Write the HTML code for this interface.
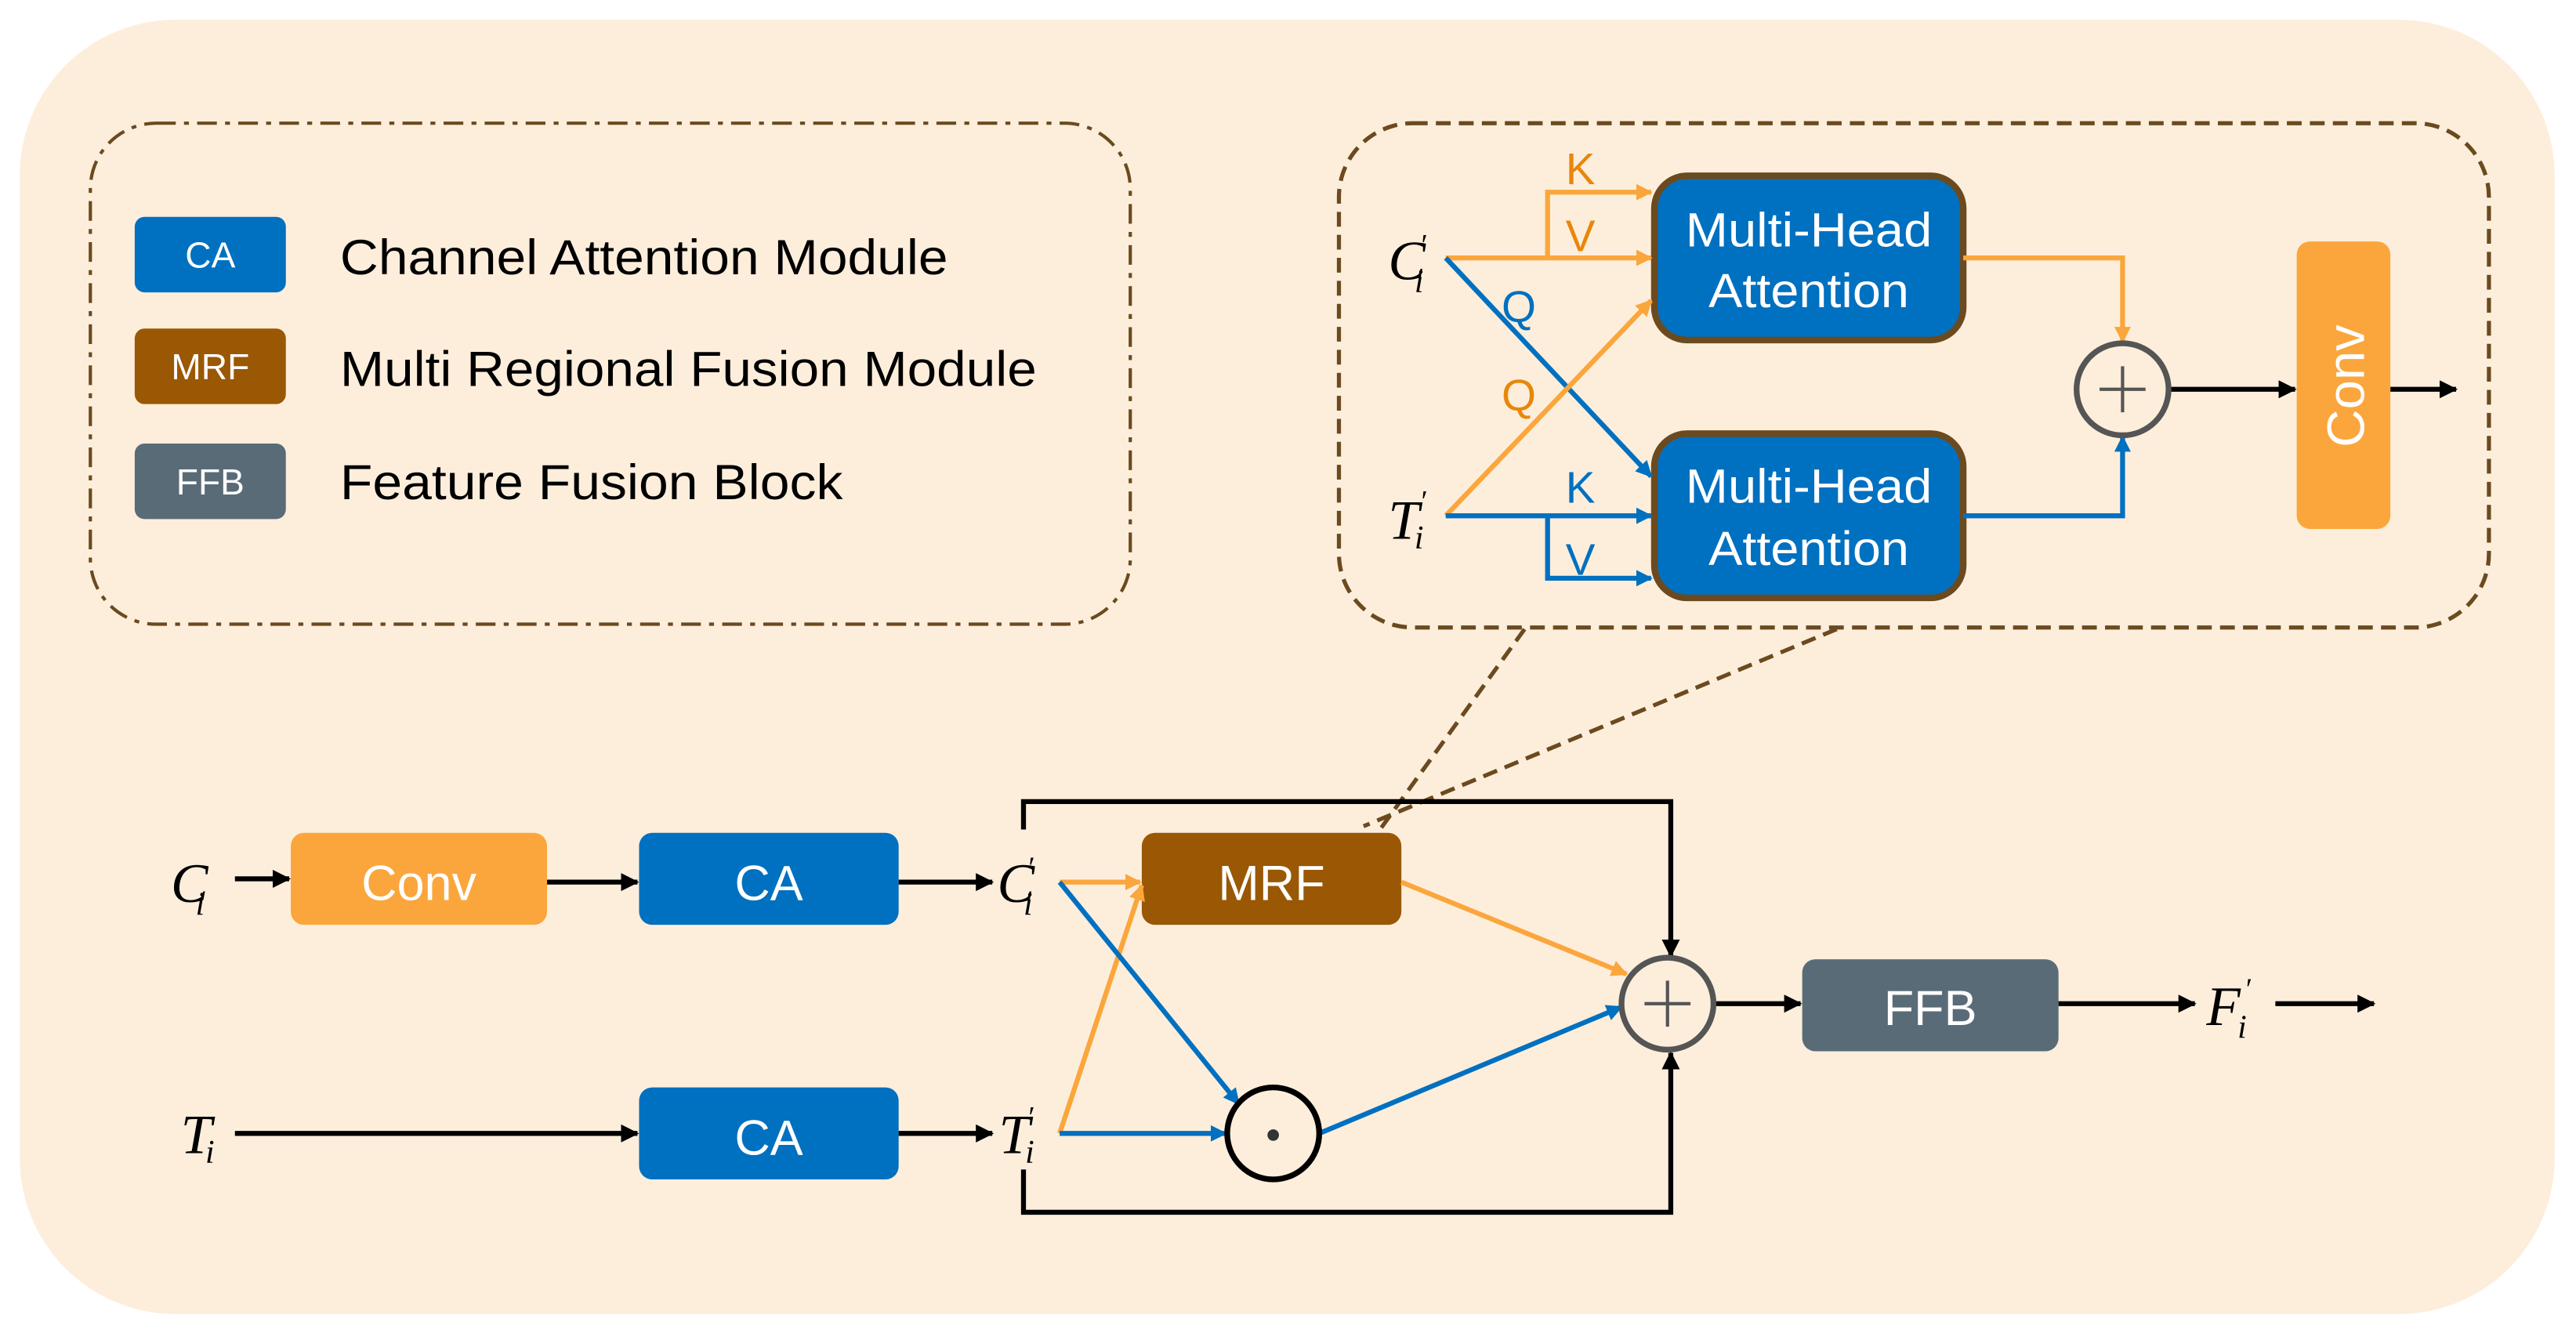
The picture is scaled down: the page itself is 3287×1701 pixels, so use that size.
<!DOCTYPE html>
<html><head><meta charset="utf-8"><style>
html,body{margin:0;padding:0;background:#fff}
svg{display:block}
.s{font-family:"Liberation Sans",sans-serif;fill:#fff}
.m{font-family:"Liberation Serif",serif;font-style:italic;fill:#000}
</style></head><body>
<svg width="3287" height="1701" viewBox="0 0 1568 811.5" preserveAspectRatio="none" xmlns="http://www.w3.org/2000/svg">
<defs>
<marker id="ab" markerWidth="11" markerHeight="11" refX="10" refY="5.5" orient="auto" markerUnits="userSpaceOnUse"><path d="M0,0 L11,5.5 L0,11z" fill="#000"/></marker>
<marker id="ao" markerWidth="10" markerHeight="10" refX="9" refY="5" orient="auto" markerUnits="userSpaceOnUse"><path d="M0,0 L10,5 L0,10z" fill="#FBA63C"/></marker>
<marker id="au" markerWidth="10" markerHeight="10" refX="9" refY="5" orient="auto" markerUnits="userSpaceOnUse"><path d="M0,0 L10,5 L0,10z" fill="#0070C0"/></marker>
</defs>
<rect x="0" y="0" width="1568" height="812" fill="#fff"/>
<rect x="12" y="12" width="1543" height="788" rx="95" fill="#FDEEDC"/>
<!-- legend -->
<rect x="55" y="75" width="633" height="305" rx="40" fill="none" stroke="#6B4A1F" stroke-width="2" stroke-dasharray="12,5,3,5"/>
<rect x="82" y="132" width="92" height="46" rx="6" fill="#0070C0"/>
<text x="128" y="163" class="s" font-size="22" text-anchor="middle">CA</text>
<rect x="82" y="200" width="92" height="46" rx="6" fill="#9A5804"/>
<text x="128" y="231" class="s" font-size="22" text-anchor="middle">MRF</text>
<rect x="82" y="270" width="92" height="46" rx="6" fill="#5A6B78"/>
<text x="128" y="301" class="s" font-size="22" text-anchor="middle">FFB</text>
<g font-family="Liberation Sans,sans-serif" font-size="30" fill="#000">
<text x="207" y="167" textLength="370" lengthAdjust="spacingAndGlyphs">Channel Attention Module</text>
<text x="207" y="235" textLength="424" lengthAdjust="spacingAndGlyphs">Multi Regional Fusion Module</text>
<text x="207" y="304" textLength="306" lengthAdjust="spacingAndGlyphs">Feature Fusion Block</text>
</g>
<!-- attention panel -->
<rect x="815" y="75" width="700" height="307" rx="45" fill="none" stroke="#6B4A1F" stroke-width="2.5" stroke-dasharray="9,5"/>
<line x1="928" y1="383" x2="840" y2="505" stroke="#6B4A1F" stroke-width="2.5" stroke-dasharray="9,5"/>
<line x1="1118" y1="383" x2="830" y2="503" stroke="#6B4A1F" stroke-width="2.5" stroke-dasharray="9,5"/>
<rect x="1007" y="107" width="188" height="100" rx="20" fill="#0070C0" stroke="#6B4A1F" stroke-width="4"/>
<text x="1101" y="150" class="s" font-size="29" text-anchor="middle" textLength="150" lengthAdjust="spacingAndGlyphs">Multi-Head</text>
<text x="1101" y="187" class="s" font-size="29" text-anchor="middle" textLength="122" lengthAdjust="spacingAndGlyphs">Attention</text>
<rect x="1007" y="264" width="188" height="100" rx="20" fill="#0070C0" stroke="#6B4A1F" stroke-width="4"/>
<text x="1101" y="306" class="s" font-size="29" text-anchor="middle" textLength="150" lengthAdjust="spacingAndGlyphs">Multi-Head</text>
<text x="1101" y="344" class="s" font-size="29" text-anchor="middle" textLength="122" lengthAdjust="spacingAndGlyphs">Attention</text>
<text x="845" y="170" class="m" font-size="34">C</text><text x="861" y="178" class="m" font-size="20">i</text><text x="864" y="155" class="m" font-size="18">′</text>
<text x="845" y="328" class="m" font-size="34">T</text><text x="861" y="334" class="m" font-size="20">i</text><text x="864" y="311" class="m" font-size="18">′</text>
<g stroke-width="3" fill="none">
<line x1="880" y1="157" x2="1005" y2="157" stroke="#FBA63C" marker-end="url(#ao)"/>
<polyline points="942,157 942,117 1005,117" stroke="#FBA63C" marker-end="url(#ao)"/>
<line x1="880" y1="157" x2="1005" y2="290" stroke="#0070C0" marker-end="url(#au)"/>
<line x1="880" y1="314" x2="1005" y2="183" stroke="#FBA63C" marker-end="url(#ao)"/>
<line x1="880" y1="314" x2="1005" y2="314" stroke="#0070C0" marker-end="url(#au)"/>
<polyline points="942,314 942,352 1005,352" stroke="#0070C0" marker-end="url(#au)"/>
<polyline points="1195,157 1292,157 1292,208" stroke="#FBA63C" marker-end="url(#ao)"/>
<polyline points="1195,314 1292,314 1292,266" stroke="#0070C0" marker-end="url(#au)"/>
<line x1="1321" y1="237" x2="1397" y2="237" stroke="#000" marker-end="url(#ab)"/>
<line x1="1455" y1="237" x2="1495" y2="237" stroke="#000" marker-end="url(#ab)"/>
</g>
<g font-family="Liberation Sans,sans-serif" font-size="27">
<text x="953" y="112" fill="#E8870A">K</text><text x="953" y="153" fill="#E8870A">V</text>
<text x="914" y="196" fill="#0070C0">Q</text><text x="914" y="250" fill="#E8870A">Q</text>
<text x="953" y="306" fill="#0070C0">K</text><text x="953" y="350" fill="#0070C0">V</text>
</g>
<circle cx="1292" cy="237" r="28" fill="none" stroke="#555" stroke-width="3.5"/>
<path d="M1278,237 H1306 M1292,223 V251" stroke="#555" stroke-width="2"/>
<rect x="1398" y="147" width="57" height="175" rx="8" fill="#FBA63C"/>
<text transform="translate(1439,235) rotate(-90)" class="s" font-size="32" text-anchor="middle">Conv</text>
<!-- bottom -->
<rect x="177" y="507" width="156" height="56" rx="8" fill="#FBA63C"/>
<text x="255" y="548" class="s" font-size="30" text-anchor="middle">Conv</text>
<rect x="389" y="507" width="158" height="56" rx="8" fill="#0070C0"/>
<text x="468" y="548" class="s" font-size="30" text-anchor="middle">CA</text>
<rect x="389" y="662" width="158" height="56" rx="8" fill="#0070C0"/>
<text x="468" y="703" class="s" font-size="30" text-anchor="middle">CA</text>
<rect x="695" y="507" width="158" height="56" rx="8" fill="#9A5804"/>
<text x="774" y="548" class="s" font-size="30" text-anchor="middle">MRF</text>
<rect x="1097" y="584" width="156" height="56" rx="8" fill="#5A6B78"/>
<text x="1175" y="624" class="s" font-size="30" text-anchor="middle">FFB</text>
<text x="104" y="549" class="m" font-size="34">C</text><text x="119" y="557" class="m" font-size="20">i</text>
<text x="110" y="702" class="m" font-size="34">T</text><text x="125" y="708" class="m" font-size="20">i</text>
<text x="607" y="549" class="m" font-size="34">C</text><text x="623" y="557" class="m" font-size="20">i</text><text x="625" y="534" class="m" font-size="18">′</text>
<text x="608" y="702" class="m" font-size="34">T</text><text x="624" y="708" class="m" font-size="20">i</text><text x="625" y="686" class="m" font-size="18">′</text>
<text x="1343" y="624" class="m" font-size="34">F</text><text x="1362" y="632" class="m" font-size="20">i</text><text x="1366" y="608" class="m" font-size="18">′</text>
<g stroke-width="3" fill="none">
<line x1="143" y1="535" x2="176" y2="535" stroke="#000" marker-end="url(#ab)"/>
<line x1="333" y1="537" x2="388" y2="537" stroke="#000" marker-end="url(#ab)"/>
<line x1="547" y1="537" x2="604" y2="537" stroke="#000" marker-end="url(#ab)"/>
<line x1="143" y1="690" x2="388" y2="690" stroke="#000" marker-end="url(#ab)"/>
<line x1="547" y1="690" x2="604" y2="690" stroke="#000" marker-end="url(#ab)"/>
<polyline points="623,505 623,488 1017,488 1017,582" stroke="#000" marker-end="url(#ab)"/>
<polyline points="623,712 623,738 1017,738 1017,641" stroke="#000" marker-end="url(#ab)"/>
<line x1="1043" y1="611" x2="1096" y2="611" stroke="#000" marker-end="url(#ab)"/>
<line x1="1253" y1="611" x2="1336" y2="611" stroke="#000" marker-end="url(#ab)"/>
<line x1="1385" y1="611" x2="1445" y2="611" stroke="#000" marker-end="url(#ab)"/>
<line x1="645" y1="537" x2="694" y2="537" stroke="#FBA63C" marker-end="url(#ao)"/>
<line x1="645" y1="690" x2="695" y2="539" stroke="#FBA63C" marker-end="url(#ao)"/>
<line x1="645" y1="537" x2="754" y2="672" stroke="#0070C0" marker-end="url(#au)"/>
<line x1="645" y1="690" x2="746" y2="690" stroke="#0070C0" marker-end="url(#au)"/>
<line x1="803" y1="690" x2="987" y2="613" stroke="#0070C0" marker-end="url(#au)"/>
<line x1="853" y1="537" x2="990" y2="593" stroke="#FBA63C" marker-end="url(#ao)"/>
</g>
<circle cx="775" cy="690" r="28" fill="none" stroke="#000" stroke-width="3.5"/>
<circle cx="775" cy="691" r="3.5" fill="#333"/>
<circle cx="1015" cy="611" r="28" fill="none" stroke="#555" stroke-width="3.5"/>
<path d="M1001,611 H1029 M1015,597 V625" stroke="#555" stroke-width="2"/>
</svg>
</body></html>
